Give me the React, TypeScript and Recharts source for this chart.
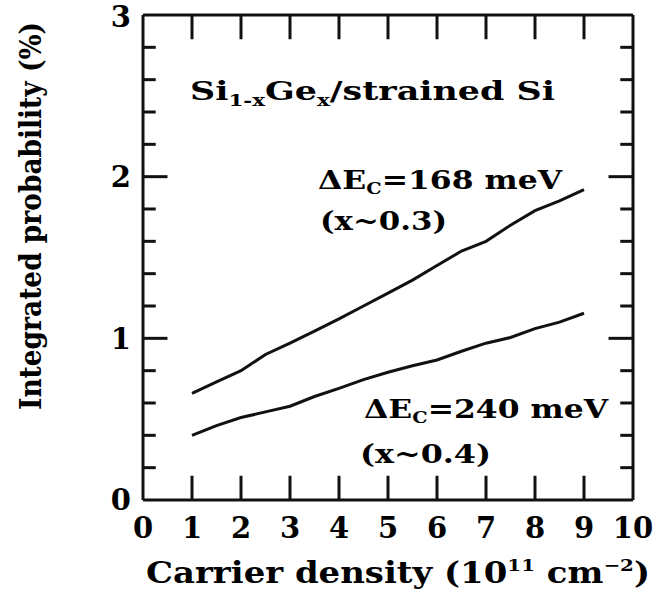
import { LineChart, Line, XAxis, YAxis, ReferenceLine } from "recharts";

// carrier density (10^11 cm^-2)
const density = [1, 1.5, 2, 2.5, 3, 3.5, 4, 4.5, 5, 5.5, 6, 6.5, 7, 7.5, 8, 8.5, 9];
// integrated probability (%), dEc = 168 meV (x~0.3)
const prob168 = [0.66, 0.73, 0.8, 0.9, 0.97, 1.045, 1.12, 1.2, 1.28, 1.36, 1.45, 1.54, 1.6, 1.7, 1.79, 1.85, 1.92];
// integrated probability (%), dEc = 240 meV (x~0.4)
const prob240 = [0.4, 0.46, 0.51, 0.545, 0.58, 0.64, 0.69, 0.745, 0.79, 0.83, 0.866, 0.92, 0.97, 1.005, 1.06, 1.1, 1.155];

const xTicks = [0, 1, 2, 3, 4, 5, 6, 7, 8, 9, 10];
const yTicks = [0, 1, 2, 3];
const yMinor = [0.2, 0.4, 0.6, 0.8, 1.2, 1.4, 1.6, 1.8, 2.2, 2.4, 2.6, 2.8];

const data = density.map((x, i) => ({ x, e168: prob168[i], e240: prob240[i] }));

const W = 654;
const H = 608;
const serif = "'DejaVu Serif', serif";

const tickFont = { fill: "#000", fontSize: 29, fontFamily: serif, fontWeight: "bold" };

export default function App() {
  const ink = "#111";
  return (
    <div style={{ position: "absolute", left: 0, top: 0, width: W, height: H, background: "#fff" }}>
      <LineChart width={W} height={H} data={data} margin={{ top: 15, right: 21, left: 0, bottom: 0 }}>
        <XAxis
          type="number"
          dataKey="x"
          domain={[0, 10]}
          ticks={xTicks}
          height={108}
          tickLine={false}
          tickSize={10}
          tickMargin={7}
          tick={tickFont}
          axisLine={{ stroke: ink, strokeWidth: 3 }}
        />
        <YAxis
          type="number"
          domain={[0, 3]}
          ticks={yTicks}
          width={143}
          tickLine={false}
          tickSize={6}
          tickMargin={6}
          tick={tickFont}
          axisLine={{ stroke: ink, strokeWidth: 3 }}
        />
        <ReferenceLine y={3} stroke={ink} strokeWidth={3} />
        <ReferenceLine x={10} stroke={ink} strokeWidth={3} />
        {xTicks.slice(1, -1).map((t) => (
          <ReferenceLine key={"b" + t} segment={[{ x: t, y: 0 }, { x: t, y: 0.15 }]} stroke={ink} strokeWidth={3} />
        ))}
        {xTicks.slice(1, -1).map((t) => (
          <ReferenceLine key={"t" + t} segment={[{ x: t, y: 3 }, { x: t, y: 2.85 }]} stroke={ink} strokeWidth={3} />
        ))}
        {yMinor.map((t) => (
          <ReferenceLine key={"l" + t} segment={[{ x: 0, y: t }, { x: 0.26, y: t }]} stroke={ink} strokeWidth={3} />
        ))}
        {yMinor.map((t) => (
          <ReferenceLine key={"r" + t} segment={[{ x: 10, y: t }, { x: 9.74, y: t }]} stroke={ink} strokeWidth={3} />
        ))}
        {[1, 2].map((t) => (
          <ReferenceLine key={"lm" + t} segment={[{ x: 0, y: t }, { x: 0.5, y: t }]} stroke={ink} strokeWidth={3} />
        ))}
        {[1, 2].map((t) => (
          <ReferenceLine key={"rm" + t} segment={[{ x: 10, y: t }, { x: 9.5, y: t }]} stroke={ink} strokeWidth={3} />
        ))}
        <Line type="linear" dataKey="e168" stroke={ink} strokeWidth={3} dot={false} isAnimationActive={false} />
        <Line type="linear" dataKey="e240" stroke={ink} strokeWidth={3} dot={false} isAnimationActive={false} />
      </LineChart>
      <svg width={W} height={H} style={{ position: "absolute", left: 0, top: 0, pointerEvents: "none" }}>
        <g fill="#000" fontFamily={serif} fontWeight="bold" fontSize={26}>
          <text x={190} y={100} textLength={365} lengthAdjust="spacingAndGlyphs">
            Si<tspan fontSize={16} dy={6}>1-x</tspan>
            <tspan dy={-6}>Ge</tspan>
            <tspan fontSize={16} dy={6}>x</tspan>
            <tspan dy={-6}>/strained Si</tspan>
          </text>
          <text x={318} y={189} textLength={244} lengthAdjust="spacingAndGlyphs">
            ΔE<tspan fontSize={16} dy={5}>C</tspan>
            <tspan dy={-5}>=168 meV</tspan>
          </text>
          <text x={320} y={230} textLength={127} lengthAdjust="spacingAndGlyphs">(x~0.3)</text>
          <text x={364} y={418} textLength={244} lengthAdjust="spacingAndGlyphs">
            ΔE<tspan fontSize={16} dy={5}>C</tspan>
            <tspan dy={-5}>=240 meV</tspan>
          </text>
          <text x={360} y={463} textLength={131} lengthAdjust="spacingAndGlyphs">(x~0.4)</text>
        </g>
        <g fill="#000" fontFamily={serif} fontWeight="bold" fontSize={29}>
          <text x={146} y={583} textLength={504} lengthAdjust="spacingAndGlyphs">
            Carrier density (10<tspan fontSize={17} dy={-12}>11</tspan>
            <tspan dy={12}> cm</tspan>
            <tspan fontSize={17} dy={-12}>−2</tspan>
            <tspan dy={12}>)</tspan>
          </text>
        </g>
        <g transform="translate(41 216) rotate(-90) scale(0.8 1)">
          <text
            x={0}
            y={0}
            fill="#000"
            fontFamily={serif}
            fontWeight="bold"
            fontSize={30}
            textAnchor="middle"
            textLength={485}
            lengthAdjust="spacingAndGlyphs"
          >
            Integrated probability (%)
          </text>
        </g>
      </svg>
    </div>
  );
}
